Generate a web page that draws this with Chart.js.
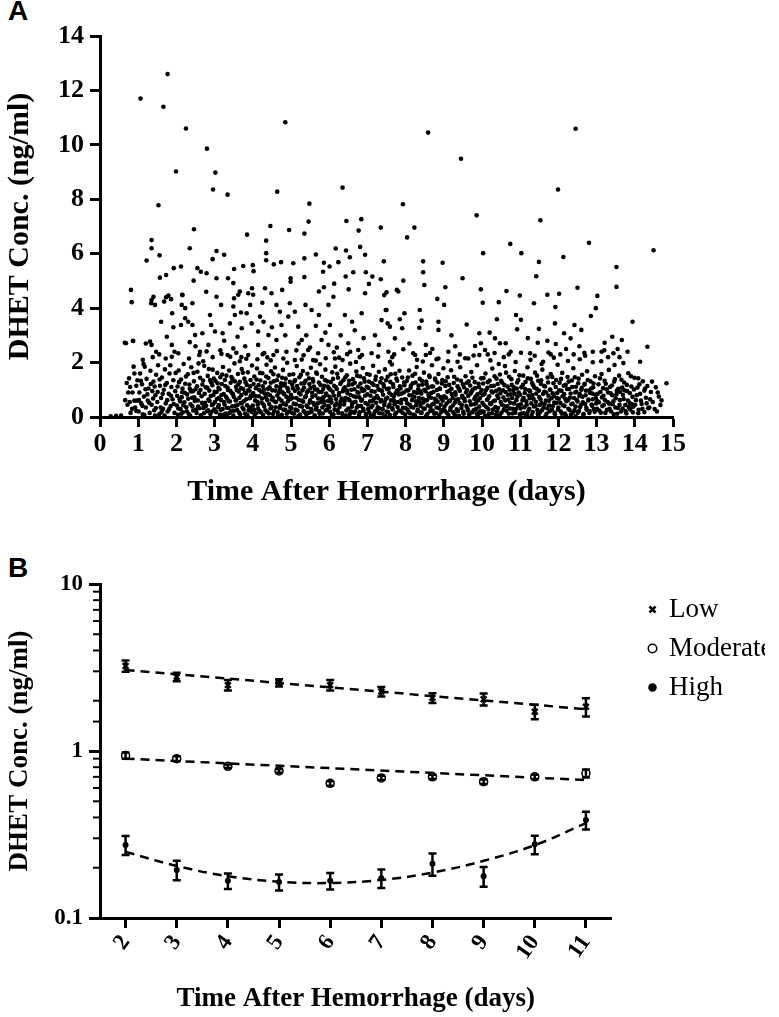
<!DOCTYPE html>
<html>
<head>
<meta charset="utf-8">
<script src="https://cdn.jsdelivr.net/npm/chart.js@4.4.1/dist/chart.umd.min.js"></script>
<style>
  body { margin: 0; background: #fff; width: 779px; height: 1017px; position: relative; overflow: hidden; }
  canvas { position: absolute; left: 0; }
  #chartA { top: 0; }
  #chartB { top: 540px; }
  .panel { position: absolute; left: 8px; font: bold 28px "Liberation Sans", Arial, sans-serif; color: #000; }
</style>
</head>
<body>
<div class="panel" style="top:-5px">A</div>
<div class="panel" style="top:552px">B</div>
<canvas id="chartA" width="779" height="510"></canvas>
<canvas id="chartB" width="779" height="477"></canvas>
<script>
// Panel A: individual DHET measurements, x,y pairs (days, ng/ml), grouped by day
const day0Pts = [0.28,0.03, 0.42,0.04, 0.55,0.05, 0.66,0.62, 0.70,1.25, 0.72,0.45, 0.68,2.71, 0.87,2.79, 0.81,4.67, 0.83,4.22, 0.76,1.42, 0.80,0.15, 0.85,0.9, 0.88,1.85, 0.92,0.35, 0.95,1.15, 0.97,0.6, 0.78,0.55, 0.9,1.6, 0.65,2.73, 0.86,2.8,
  0.74,0.9, 0.79,1.1, 0.84,0.3, 0.9,0.6, 0.95,0.22, 0.98,1.35];
const day1Pts = [1.01,0.2, 1.03,0.9, 1.05,1.6, 1.08,0.5, 1.1,1.2, 1.12,0.1, 1.15,0.75, 1.17,1.85, 1.2,0.35, 1.22,1.4, 1.25,0.6, 1.27,1.05, 1.3,0.15, 1.32,1.7, 1.35,0.45, 1.37,0.95, 1.4,1.3, 1.42,0.25, 1.45,0.8, 1.47,1.55, 1.5,0.55, 1.52,1.9, 1.55,0.1, 1.57,1.15, 1.6,0.7, 1.62,1.45, 1.65,0.3, 1.67,1.0, 1.7,1.75, 1.72,0.5, 1.75,1.25, 1.77,0.2, 1.8,0.85, 1.82,1.6, 1.85,0.4, 1.87,1.1, 1.9,0.65, 1.92,1.35, 1.95,0.15, 1.97,0.95, 1.14,1.95, 1.44,0.05, 1.59,0.35, 1.84,1.9, 1.69,0.05,
  1.02,0.62, 1.07,1.33, 1.11,0.41, 1.16,0.07, 1.19,1.02, 1.24,0.83, 1.29,0.52, 1.33,1.21, 1.39,0.68, 1.43,1.12, 1.46,0.33, 1.51,0.92, 1.56,1.38, 1.61,0.18, 1.64,0.85, 1.71,1.18, 1.76,0.62, 1.81,0.29, 1.86,0.78, 1.93,0.48, 1.98,1.62,
  1.31,2.77, 1.35,2.65, 1.47,2.4, 1.75,2.95, 1.88,2.65, 1.40,4.42, 1.44,4.12, 1.68,4.24, 1.73,4.4, 1.34,4.18, 1.89,3.81, 1.2,2.7, 1.55,2.3, 1.95,2.4, 1.12,2.1, 1.38,2.2, 1.72,2.15, 1.6,3.5, 1.92,3.3, 1.73,5.22, 1.57,5.12, 1.93,5.47, 1.35,4.3, 1.79,4.46, 1.86,4.33, 1.88,2.21,
  1.06,11.7, 1.66,11.4, 1.77,12.6, 1.53,7.78, 1.35,6.5, 1.35,6.2, 1.56,5.94, 1.22,5.75, 1.99,9.02];
const day2Pts = [2.01,0.42, 2.03,1.12, 2.04,0.08, 2.06,1.71, 2.08,0.66, 2.11,0.29, 2.12,1.38, 2.15,0.91, 2.17,0.17, 2.19,1.95, 2.21,0.54, 2.23,1.22, 2.26,0.36, 2.28,0.83, 2.3,1.57, 2.32,0.12, 2.35,1.04, 2.37,0.47, 2.39,1.83, 2.41,0.71, 2.44,0.24, 2.46,1.31, 2.48,0.59, 2.5,1.02, 2.53,0.15, 2.55,1.66, 2.57,0.38, 2.59,0.88, 2.62,1.44, 2.64,0.06, 2.66,0.76, 2.68,1.19, 2.71,0.33, 2.73,1.88, 2.75,0.52, 2.77,1.09, 2.8,0.21, 2.82,1.51, 2.84,0.64, 2.86,0.97, 2.89,0.11, 2.91,1.27, 2.93,0.44, 2.95,1.74, 2.97,0.81, 2.99,0.28, 2.14,0.73, 2.43,0.95, 2.69,0.49, 2.88,1.36,
  2.02,0.78, 2.05,0.31, 2.07,1.28, 2.1,0.57, 2.13,0.12, 2.16,1.05, 2.18,0.43, 2.22,0.89, 2.25,1.49, 2.27,0.21, 2.31,0.67, 2.34,1.19, 2.36,0.05, 2.38,0.94, 2.42,0.39, 2.45,1.62, 2.47,0.72, 2.51,0.26, 2.54,1.13, 2.56,0.61, 2.58,1.97, 2.61,0.32, 2.63,0.99, 2.67,0.52, 2.7,1.34, 2.72,0.14, 2.74,0.85, 2.78,0.41, 2.81,1.07, 2.83,0.25, 2.85,1.76, 2.87,0.59, 2.9,0.77, 2.92,0.19, 2.94,1.17, 2.96,0.47, 2.98,1.41, 2.33,2.15, 2.6,2.28, 2.79,2.41,
  2.16,4.48, 2.14,4.12, 2.23,4.0, 2.42,4.18, 2.12,3.38, 2.31,3.5, 2.23,3.63, 2.42,3.38, 2.49,3.01, 2.68,3.08, 2.88,3.75, 2.91,3.38, 2.84,2.65, 2.62,2.4, 2.05,2.34, 2.12,5.53, 2.55,5.47, 2.64,5.34, 2.79,5.28, 2.45,5.01, 2.15,4.49, 2.78,4.6, 2.5,2.6, 2.95,2.2, 2.35,2.75, 2.7,2.05,
  2.25,10.6, 2.80,9.86, 2.46,6.9, 2.35,6.2, 2.95,5.8, 2.96,8.36];
const day3Pts = [3.01,0.55, 3.02,1.33, 3.04,0.18, 3.05,0.92, 3.07,1.62, 3.09,0.37, 3.1,1.07, 3.12,0.71, 3.14,0.09, 3.15,1.46, 3.17,0.62, 3.19,1.21, 3.21,0.29, 3.22,1.84, 3.24,0.84, 3.26,0.46, 3.28,1.14, 3.29,0.13, 3.31,1.52, 3.33,0.68, 3.35,0.99, 3.36,0.33, 3.38,1.71, 3.4,0.57, 3.42,1.26, 3.43,0.21, 3.45,0.88, 3.47,1.39, 3.49,0.05, 3.5,0.74, 3.52,1.97, 3.54,0.41, 3.56,1.11, 3.57,0.63, 3.59,0.26, 3.61,1.58, 3.63,0.94, 3.64,0.16, 3.66,1.29, 3.68,0.51, 3.7,0.81, 3.71,1.76, 3.73,0.35, 3.75,1.03, 3.77,0.59, 3.78,1.41, 3.8,0.12, 3.82,0.86, 3.84,1.18, 3.85,0.43, 3.87,1.64, 3.89,0.24, 3.91,0.97, 3.92,0.69, 3.94,1.36, 3.96,0.31, 3.98,1.89, 3.99,0.78, 3.33,0.03, 3.66,2.05,
  3.0,0.93, 3.03,0.21, 3.06,0.66, 3.08,1.24, 3.11,0.44, 3.13,1.02, 3.16,0.27, 3.18,0.81, 3.2,1.56, 3.23,0.08, 3.25,0.55, 3.27,1.36, 3.3,0.74, 3.32,0.34, 3.34,1.08, 3.37,0.58, 3.39,0.15, 3.41,0.96, 3.44,1.47, 3.46,0.39, 3.48,0.84, 3.51,0.23, 3.53,1.31, 3.55,0.61, 3.58,0.99, 3.6,0.44, 3.62,1.2, 3.65,0.71, 3.67,0.1, 3.69,1.06, 3.72,0.52, 3.74,1.63, 3.76,0.28, 3.79,0.89, 3.81,1.28, 3.83,0.65, 3.86,0.07, 3.88,0.98, 3.9,0.37, 3.93,1.13, 3.95,0.79, 3.97,0.19, 3.41,2.21, 3.57,2.36, 3.83,2.14, 3.18,2.32,
  3.05,4.42, 3.17,4.12, 3.01,3.14, 3.21,3.08, 3.4,3.44, 3.49,4.06, 3.53,3.75, 3.69,3.84, 3.62,4.49, 3.88,4.55, 3.93,4.12, 3.84,3.81, 3.97,3.44, 3.71,3.26, 3.88,2.28, 3.49,2.52, 3.34,2.28, 3.51,5.44, 3.75,5.55, 3.05,5.1, 3.35,5.1, 3.49,4.92, 3.51,4.36, 3.66,4.61, 3.98,4.73, 3.25,2.8, 3.6,2.95, 3.8,2.6, 3.15,2.45, 3.7,2.2,
  3.02,8.98, 3.34,8.17, 3.05,6.1, 3.25,5.96, 3.85,6.7];
const day4Pts = [4.01,0.88, 4.03,0.27, 4.04,1.49, 4.06,0.61, 4.08,1.06, 4.09,0.14, 4.11,1.78, 4.13,0.45, 4.15,1.17, 4.16,0.76, 4.18,0.22, 4.2,1.34, 4.22,0.93, 4.23,0.53, 4.25,1.61, 4.27,0.07, 4.29,1.01, 4.3,0.39, 4.32,1.27, 4.34,0.72, 4.36,1.92, 4.37,0.19, 4.39,0.85, 4.41,1.43, 4.43,0.48, 4.44,1.09, 4.46,0.31, 4.48,1.68, 4.5,0.64, 4.51,0.98, 4.53,0.11, 4.55,1.31, 4.57,0.57, 4.58,1.82, 4.6,0.36, 4.62,1.13, 4.64,0.79, 4.65,0.17, 4.67,1.52, 4.69,0.67, 4.71,1.02, 4.72,0.41, 4.74,1.24, 4.76,0.08, 4.78,0.91, 4.79,1.73, 4.81,0.49, 4.83,1.16, 4.85,0.26, 4.86,1.41, 4.88,0.74, 4.9,1.99, 4.92,0.58, 4.93,0.95, 4.95,0.2, 4.97,1.29, 4.99,0.66, 4.12,2.12, 4.47,2.08, 4.8,2.15,
  4.0,0.42, 4.02,1.21, 4.05,0.09, 4.07,0.77, 4.1,1.38, 4.12,0.56, 4.14,0.3, 4.17,0.99, 4.19,1.62, 4.21,0.17, 4.24,0.68, 4.26,1.13, 4.28,0.46, 4.31,0.86, 4.33,0.25, 4.35,1.49, 4.38,0.62, 4.4,1.04, 4.42,0.13, 4.45,0.8, 4.47,1.26, 4.49,0.37, 4.52,0.71, 4.54,1.57, 4.56,0.22, 4.59,0.97, 4.61,0.55, 4.63,1.35, 4.66,0.05, 4.68,0.89, 4.7,0.33, 4.73,1.11, 4.75,0.6, 4.77,1.44, 4.8,0.27, 4.82,0.84, 4.84,1.23, 4.87,0.45, 4.89,0.12, 4.91,1.06, 4.94,0.7, 4.96,1.55, 4.98,0.36, 4.26,2.31, 4.63,2.42, 4.38,2.19,
  4.19,3.69, 4.28,3.5, 4.14,3.14, 4.41,3.01, 4.62,4.12, 4.71,3.87, 4.75,3.38, 4.97,4.18, 4.93,3.69, 4.62,2.83, 4.88,2.4, 4.54,2.28, 4.14,2.65, 4.0,5.58, 4.02,5.36, 4.55,5.61, 4.99,5.1, 4.99,4.97, 4.77,4.67, 4.01,4.49, 4.32,4.73, 4.49,4.55, 4.3,2.35, 4.5,3.3, 4.85,3.0, 4.25,4.2,
  4.85,10.83, 4.64,8.28, 4.46,7.02, 4.95,6.87, 4.35,6.48, 4.35,6.02, 4.35,5.76, 4.74,5.69];
const day5Pts = [5.01,0.33, 5.03,1.19, 5.04,0.71, 5.06,1.57, 5.08,0.12, 5.1,0.96, 5.11,1.36, 5.13,0.47, 5.15,1.87, 5.17,0.24, 5.18,1.04, 5.2,0.63, 5.22,1.46, 5.24,0.09, 5.25,0.83, 5.27,1.23, 5.29,0.38, 5.31,1.69, 5.32,0.56, 5.34,1.08, 5.36,0.18, 5.38,1.33, 5.39,0.77, 5.41,0.42, 5.43,1.59, 5.45,0.97, 5.46,0.15, 5.48,1.21, 5.5,0.61, 5.52,1.81, 5.53,0.29, 5.55,0.89, 5.57,1.39, 5.59,0.51, 5.6,1.12, 5.62,0.06, 5.64,0.79, 5.66,1.63, 5.67,0.35, 5.69,1.01, 5.71,0.68, 5.73,1.27, 5.74,0.21, 5.76,1.94, 5.78,0.54, 5.8,0.92, 5.81,1.48, 5.83,0.13, 5.85,0.73, 5.87,1.15, 5.88,0.44, 5.9,1.74, 5.92,0.86, 5.94,0.27, 5.95,1.31, 5.97,0.59, 5.99,1.06, 5.28,2.11, 5.65,2.07, 5.91,2.16,
  5.0,0.82, 5.02,0.16, 5.05,1.06, 5.07,0.49, 5.09,1.31, 5.12,0.27, 5.14,0.7, 5.16,1.14, 5.19,0.03, 5.21,0.88, 5.23,0.41, 5.26,1.55, 5.28,0.6, 5.3,0.98, 5.33,0.22, 5.35,1.25, 5.37,0.73, 5.4,0.1, 5.42,0.91, 5.44,0.36, 5.47,1.42, 5.49,0.53, 5.51,1.07, 5.54,0.19, 5.56,0.75, 5.58,1.3, 5.61,0.44, 5.63,1.01, 5.65,0.28, 5.68,1.59, 5.7,0.5, 5.72,0.92, 5.75,0.12, 5.77,1.18, 5.79,0.67, 5.82,0.35, 5.84,1.03, 5.86,0.58, 5.89,1.36, 5.91,0.24, 5.93,0.81, 5.96,1.12, 5.98,0.4, 5.33,2.27, 5.71,2.34, 5.14,2.45,
  5.1,3.87, 5.19,3.32, 5.38,4.12, 5.54,3.93, 5.73,3.75, 5.98,4.12, 5.45,2.46, 5.8,2.83, 5.98,2.65, 5.28,2.83, 5.58,2.09, 5.1,2.09, 5.2,2.7, 5.4,3.0, 5.65,3.35, 5.9,3.1, 5.5,2.55,
  5.06,5.65, 5.48,7.84, 5.46,7.18, 5.35,6.74, 5.65,5.97, 5.35,5.83, 5.86,5.67, 5.84,5.34, 5.35,5.14, 5.86,4.77, 5.73,4.61];
const day6Pts = [6.01,0.74, 6.02,0.19, 6.04,1.28, 6.06,0.53, 6.08,1.64, 6.09,0.93, 6.11,0.1, 6.13,1.15, 6.15,0.42, 6.16,1.85, 6.18,0.66, 6.2,1.03, 6.22,0.25, 6.23,1.44, 6.25,0.8, 6.27,0.37, 6.29,1.21, 6.3,0.58, 6.32,1.72, 6.34,0.14, 6.36,0.95, 6.37,1.35, 6.39,0.46, 6.41,1.09, 6.43,0.7, 6.44,0.05, 6.46,1.53, 6.48,0.87, 6.5,0.31, 6.51,1.18, 6.53,0.62, 6.55,1.96, 6.57,0.2, 6.58,1.0, 6.6,0.49, 6.62,1.39, 6.64,0.76, 6.65,0.16, 6.67,1.26, 6.69,0.56, 6.71,1.67, 6.72,0.34, 6.74,0.91, 6.76,1.12, 6.78,0.08, 6.79,0.72, 6.81,1.49, 6.83,0.4, 6.85,1.05, 6.86,0.64, 6.88,1.8, 6.9,0.23, 6.92,0.98, 6.93,1.3, 6.95,0.51, 6.97,0.12, 6.99,1.58, 6.35,2.09, 6.7,2.02, 6.26,2.18,
  6.0,0.36, 6.03,1.0, 6.05,0.63, 6.07,0.07, 6.1,1.4, 6.12,0.79, 6.14,0.27, 6.17,1.1, 6.19,0.5, 6.21,1.59, 6.24,0.15, 6.26,0.88, 6.28,0.45, 6.31,1.27, 6.33,0.68, 6.35,0.04, 6.38,1.05, 6.4,0.57, 6.42,1.45, 6.45,0.24, 6.47,0.97, 6.49,0.66, 6.52,1.33, 6.54,0.11, 6.56,0.81, 6.59,0.38, 6.61,1.2, 6.63,0.53, 6.66,1.02, 6.68,0.2, 6.7,0.74, 6.73,1.52, 6.75,0.41, 6.77,0.89, 6.8,0.17, 6.82,1.23, 6.84,0.6, 6.87,0.96, 6.89,0.3, 6.91,1.42, 6.94,0.78, 6.96,0.09, 6.98,1.11, 6.47,2.31, 6.86,2.28, 6.12,2.38,
  6.11,4.42, 6.02,3.38, 6.41,3.75, 6.67,3.19, 6.85,3.81, 6.94,4.55, 6.15,2.15, 6.5,2.71, 6.76,2.46, 6.3,3.0, 6.55,2.4, 6.9,2.9, 6.2,2.55, 6.6,3.5, 6.8,2.2,
  6.35,8.43, 6.45,7.2, 6.84,7.27, 6.77,6.85, 6.17,6.19, 6.44,6.12, 6.81,6.25, 6.94,5.96, 6.54,5.87, 6.24,5.69, 6.01,5.53, 6.63,5.32, 6.96,5.32, 6.43,5.16, 6.51,4.69, 6.13,4.9];
const day7Pts = [7.01,0.46, 7.03,1.07, 7.05,0.17, 7.06,1.55, 7.08,0.78, 7.1,0.36, 7.12,1.24, 7.14,0.6, 7.15,1.88, 7.17,0.1, 7.19,0.93, 7.21,1.37, 7.23,0.52, 7.24,0.25, 7.26,1.14, 7.28,0.7, 7.3,1.66, 7.32,0.31, 7.33,0.99, 7.35,0.57, 7.37,1.42, 7.39,0.13, 7.41,0.82, 7.42,1.2, 7.44,0.44, 7.46,1.75, 7.48,0.66, 7.5,0.2, 7.51,1.03, 7.53,1.48, 7.55,0.38, 7.57,0.89, 7.59,0.07, 7.6,1.29, 7.62,0.61, 7.64,1.93, 7.66,0.28, 7.68,1.1, 7.69,0.74, 7.71,0.47, 7.73,1.59, 7.75,0.15, 7.77,0.96, 7.78,1.33, 7.8,0.55, 7.82,0.83, 7.84,1.7, 7.86,0.22, 7.87,1.06, 7.89,0.63, 7.91,1.45, 7.93,0.34, 7.95,0.9, 7.97,1.17, 7.99,0.09,
  7.0,0.83, 7.02,0.29, 7.04,1.3, 7.07,0.58, 7.09,0.05, 7.11,0.95, 7.13,0.42, 7.16,1.18, 7.18,0.69, 7.2,0.21, 7.22,1.49, 7.25,0.77, 7.27,0.36, 7.29,1.01, 7.31,0.14, 7.34,1.28, 7.36,0.62, 7.38,0.95, 7.4,0.29, 7.43,1.11, 7.45,0.55, 7.47,0.04, 7.49,1.35, 7.52,0.71, 7.54,0.18, 7.56,1.05, 7.58,0.46, 7.61,1.57, 7.63,0.82, 7.65,0.33, 7.67,1.2, 7.7,0.59, 7.72,0.1, 7.74,0.87, 7.76,1.41, 7.79,0.37, 7.81,0.99, 7.83,0.24, 7.85,1.13, 7.88,0.51, 7.9,0.86, 7.92,0.16, 7.96,1.27, 7.98,0.65, 7.28,2.22, 7.7,2.3,
  7.44,4.48, 7.48,3.93, 7.37,3.56, 7.59,3.32, 7.11,2.34, 7.3,2.65, 7.55,2.4, 7.59,2.03, 7.94,2.49, 7.53,3.44, 7.5,3.93, 7.81,4.61, 7.97,3.81, 7.85,3.59, 7.91,3.26, 7.72,2.89, 7.2,3.0, 7.65,2.2,
  7.93,7.82, 7.35,6.96, 7.43,5.72, 7.13,5.16, 7.35,5.06, 7.94,5.01, 7.04,4.89, 7.5,4.58, 7.77,4.67];
const day8Pts = [8.01,0.64, 8.03,1.32, 8.05,0.27, 8.07,0.98, 8.09,1.71, 8.11,0.45, 8.12,0.13, 8.14,1.16, 8.16,0.79, 8.18,1.52, 8.2,0.35, 8.22,0.92, 8.24,0.06, 8.26,1.27, 8.27,0.58, 8.29,1.84, 8.31,0.21, 8.33,1.02, 8.35,0.7, 8.37,1.4, 8.39,0.41, 8.41,0.86, 8.42,0.16, 8.44,1.19, 8.46,0.53, 8.48,1.63, 8.5,0.3, 8.52,0.95, 8.54,1.3, 8.56,0.62, 8.57,0.11, 8.59,1.08, 8.61,0.76, 8.63,1.47, 8.65,0.37, 8.67,0.88, 8.69,1.9, 8.71,0.24, 8.72,1.12, 8.74,0.49, 8.76,0.67, 8.78,1.36, 8.8,0.14, 8.82,0.99, 8.84,0.56, 8.86,1.58, 8.87,0.32, 8.89,1.05, 8.91,0.73, 8.93,0.18, 8.95,1.23, 8.97,0.6, 8.99,1.79, 8.45,2.04, 8.81,2.12,
  8.0,0.33, 8.02,0.97, 8.04,0.5, 8.06,1.45, 8.08,0.19, 8.1,0.8, 8.13,1.07, 8.15,0.37, 8.17,0.62, 8.19,1.24, 8.21,0.09, 8.23,0.74, 8.25,1.59, 8.28,0.44, 8.3,0.88, 8.32,0.27, 8.34,1.16, 8.36,0.55, 8.38,0.95, 8.4,0.15, 8.43,1.33, 8.45,0.67, 8.47,0.31, 8.49,1.0, 8.51,0.6, 8.53,0.03, 8.55,1.2, 8.58,0.42, 8.6,0.84, 8.62,1.52, 8.64,0.21, 8.66,0.71, 8.68,1.12, 8.7,0.47, 8.73,0.92, 8.75,0.12, 8.77,1.41, 8.79,0.63, 8.81,0.35, 8.83,1.27, 8.85,0.8, 8.88,0.07, 8.9,1.03, 8.92,0.45, 8.94,0.68, 8.96,1.36, 8.98,0.26, 8.25,2.28, 8.64,2.35,
  8.83,4.34, 8.37,3.93, 8.42,3.54, 8.86,3.5, 8.36,3.28, 8.86,3.2, 8.53,2.65, 8.53,2.28, 8.86,2.15, 8.2,2.34, 8.1,2.7, 8.7,2.5, 8.3,2.1,
  8.59,10.45, 8.23,6.96, 8.04,6.6, 8.46,5.72, 8.97,5.67, 8.46,5.32, 8.49,4.85];
const day9Pts = [9.02,0.38, 9.04,1.14, 9.06,0.71, 9.08,0.15, 9.1,1.46, 9.13,0.57, 9.15,0.97, 9.17,0.26, 9.19,1.72, 9.21,0.84, 9.24,0.42, 9.26,1.25, 9.28,0.09, 9.3,0.91, 9.32,0.63, 9.35,1.38, 9.37,0.22, 9.39,1.05, 9.41,0.51, 9.43,1.83, 9.46,0.33, 9.48,0.78, 9.5,1.2, 9.52,0.12, 9.54,0.67, 9.57,1.5, 9.59,0.4, 9.61,0.99, 9.63,0.24, 9.65,1.31, 9.68,0.58, 9.7,0.86, 9.72,1.65, 9.74,0.17, 9.76,1.01, 9.79,0.47, 9.81,1.28, 9.83,0.74, 9.85,0.3, 9.87,1.9, 9.9,0.61, 9.92,1.1, 9.94,0.2, 9.96,0.89, 9.98,1.42, 9.11,2.05, 9.56,2.16, 9.33,0.04, 9.67,0.03, 9.89,0.05,
  9.01,0.76, 9.03,0.22, 9.05,1.31, 9.07,0.49, 9.09,0.93, 9.12,0.08, 9.14,1.18, 9.16,0.6, 9.18,0.35, 9.2,1.04, 9.23,0.7, 9.25,0.17, 9.27,1.48, 9.29,0.53, 9.31,0.82, 9.34,0.28, 9.36,1.13, 9.38,0.65, 9.4,0.04, 9.42,0.96, 9.45,1.33, 9.47,0.44, 9.49,0.72, 9.51,0.19, 9.53,1.09, 9.55,0.58, 9.58,0.9, 9.6,1.26, 9.62,0.31, 9.64,0.77, 9.66,0.1, 9.69,1.16, 9.71,0.45, 9.73,0.94, 9.75,1.44, 9.78,0.25, 9.8,0.66, 9.82,1.06, 9.84,0.5, 9.86,0.13, 9.88,0.83, 9.91,1.22, 9.93,0.38, 9.95,0.7, 9.97,0.16, 9.99,0.99, 9.42,2.3, 9.78,2.26,
  9.01,4.12, 9.93,3.08, 9.97,2.71, 9.82,2.61, 9.93,2.28, 9.36,2.03, 9.12,2.4, 9.64,2.15, 9.3,2.6, 9.6,3.4, 9.2,3.0,
  9.45,9.49, 9.86,7.41, 9.49,5.1, 9.04,4.77, 9.97,4.69];
const day10Pts = [10.01,0.52, 10.03,1.23, 10.05,0.19, 10.07,0.85, 10.09,1.6, 10.12,0.36, 10.14,1.07, 10.16,0.68, 10.18,0.11, 10.2,1.34, 10.23,0.47, 10.25,0.94, 10.27,1.78, 10.29,0.27, 10.31,1.15, 10.34,0.6, 10.36,0.08, 10.38,1.41, 10.4,0.79, 10.42,0.33, 10.45,1.02, 10.47,1.56, 10.49,0.55, 10.51,0.16, 10.53,1.26, 10.56,0.72, 10.58,0.4, 10.6,1.87, 10.62,0.92, 10.64,0.23, 10.67,1.12, 10.69,0.64, 10.71,1.48, 10.73,0.31, 10.75,0.83, 10.78,1.18, 10.8,0.13, 10.82,0.97, 10.84,0.5, 10.86,1.69, 10.89,0.29, 10.91,1.05, 10.93,0.75, 10.95,1.36, 10.97,0.44, 10.99,0.1, 10.22,2.08, 10.57,2.2, 10.88,2.02, 10.44,1.95,
  10.0,0.21, 10.02,0.81, 10.04,1.43, 10.06,0.43, 10.08,0.04, 10.1,0.98, 10.13,0.63, 10.15,1.28, 10.17,0.28, 10.19,0.76, 10.21,0.5, 10.24,1.14, 10.26,0.14, 10.28,0.9, 10.3,0.58, 10.33,1.5, 10.35,0.37, 10.37,0.96, 10.39,0.2, 10.41,1.21, 10.43,0.7, 10.46,0.06, 10.48,0.87, 10.5,1.33, 10.52,0.45, 10.55,0.98, 10.57,0.26, 10.59,1.17, 10.61,0.61, 10.63,1.63, 10.66,0.39, 10.68,0.82, 10.7,0.12, 10.72,1.0, 10.74,0.52, 10.77,1.39, 10.79,0.7, 10.81,0.3, 10.83,1.1, 10.85,0.85, 10.87,0.16, 10.9,0.62, 10.92,1.27, 10.94,0.41, 10.96,0.9, 10.98,1.53, 10.33,2.35, 10.75,2.4,
  10.02,4.2, 10.39,3.59, 10.89,3.75, 10.92,3.22, 10.08,2.46, 10.34,2.89, 10.47,2.71, 10.62,2.71, 10.2,3.1, 10.7,2.3, 10.15,2.3,
  10.03,6.02, 10.74,6.36, 10.64,4.63, 10.99,4.46, 10.44,4.22];
const day11Pts = [11.01,0.31, 11.03,1.09, 11.06,0.62, 11.08,1.52, 11.1,0.14, 11.12,0.88, 11.14,1.29, 11.17,0.45, 11.19,1.83, 11.21,0.22, 11.23,0.98, 11.25,0.69, 11.28,1.4, 11.3,0.07, 11.32,0.81, 11.34,1.17, 11.36,0.39, 11.39,1.63, 11.41,0.56, 11.43,1.04, 11.45,0.26, 11.47,1.33, 11.5,0.73, 11.52,0.17, 11.54,1.21, 11.56,0.5, 11.58,1.74, 11.61,0.34, 11.63,0.93, 11.65,1.12, 11.67,0.6, 11.69,0.12, 11.72,1.45, 11.74,0.78, 11.76,0.42, 11.78,1.01, 11.8,1.58, 11.83,0.28, 11.85,0.87, 11.87,1.24, 11.89,0.53, 11.91,0.1, 11.94,1.36, 11.96,0.7, 11.98,1.92, 11.27,2.1, 11.6,2.03, 11.88,2.18, 11.15,0.04, 11.48,0.05,
  11.0,0.82, 11.02,0.47, 11.04,0.13, 11.07,1.18, 11.09,0.7, 11.11,0.36, 11.13,1.03, 11.16,0.58, 11.18,0.09, 11.2,1.42, 11.22,0.79, 11.24,0.3, 11.26,0.95, 11.29,0.5, 11.31,1.25, 11.33,0.18, 11.35,0.66, 11.37,1.08, 11.4,0.41, 11.42,0.86, 11.44,1.52, 11.46,0.11, 11.49,0.97, 11.51,0.44, 11.53,0.64, 11.55,1.35, 11.57,0.25, 11.6,0.85, 11.62,1.15, 11.64,0.48, 11.66,0.03, 11.68,0.9, 11.71,0.32, 11.73,1.27, 11.75,0.6, 11.77,0.21, 11.79,1.0, 11.82,0.69, 11.84,1.47, 11.86,0.4, 11.88,0.77, 11.9,0.15, 11.93,1.1, 11.95,0.52, 11.97,0.88, 11.99,0.27, 11.38,2.25, 11.74,2.37,
  11.02,3.57, 11.71,4.49, 11.91,3.44, 11.49,3.24, 11.46,2.73, 11.71,2.8, 11.93,2.68, 11.02,2.36, 11.26,2.34, 11.56,1.95, 11.2,2.9, 11.8,2.3,
  11.99,8.36, 11.53,7.23, 11.03,6.02, 11.49,5.7, 11.42,5.17, 11.36,4.18, 11.92,4.04];
const day12Pts = [12.01,0.67, 12.03,1.26, 12.06,0.2, 12.08,0.96, 12.1,1.62, 12.12,0.43, 12.15,0.84, 12.17,0.13, 12.19,1.18, 12.21,0.58, 12.24,1.47, 12.26,0.3, 12.28,1.03, 12.3,0.71, 12.33,0.09, 12.35,1.34, 12.37,0.49, 12.39,1.79, 12.42,0.25, 12.44,0.9, 12.46,1.11, 12.48,0.63, 12.51,0.16, 12.53,1.41, 12.55,0.77, 12.57,0.37, 12.6,1.0, 12.62,1.55, 12.64,0.54, 12.66,0.11, 12.69,1.22, 12.71,0.8, 12.73,0.34, 12.75,1.68, 12.78,0.61, 12.8,0.97, 12.82,0.22, 12.84,1.31, 12.87,0.46, 12.89,0.86, 12.91,1.09, 12.93,0.29, 12.96,1.5, 12.98,0.7, 12.25,2.06, 12.56,2.12, 12.9,2.01, 12.45,0.03,
  12.0,0.35, 12.02,0.98, 12.05,0.52, 12.07,1.4, 12.09,0.12, 12.11,0.76, 12.14,1.15, 12.16,0.4, 12.18,0.67, 12.2,0.05, 12.23,1.03, 12.25,0.62, 12.27,1.3, 12.29,0.26, 12.32,0.86, 12.34,0.47, 12.36,1.1, 12.38,0.17, 12.41,0.7, 12.43,1.46, 12.45,0.38, 12.47,0.93, 12.5,0.57, 12.52,1.24, 12.54,0.22, 12.56,0.84, 12.59,0.44, 12.61,1.07, 12.63,0.74, 12.65,0.08, 12.68,1.19, 12.7,0.48, 12.72,0.97, 12.74,0.27, 12.77,1.36, 12.79,0.64, 12.81,0.15, 12.83,0.88, 12.86,1.05, 12.88,0.41, 12.9,0.65, 12.92,1.23, 12.95,0.19, 12.97,0.82, 12.99,0.5, 12.4,2.3, 12.7,2.25,
  12.15,3.08, 12.32,2.89, 12.42,3.38, 12.85,3.71, 12.68,2.36, 12.2,2.5, 12.55,2.6, 12.9,2.4, 12.6,3.2, 12.05,2.3,
  12.45,10.59, 12.8,6.4, 12.13,5.88, 12.02,4.53, 12.5,4.75];
const day13Pts = [13.02,0.59, 13.05,1.2, 13.07,0.24, 13.1,0.92, 13.13,1.58, 13.15,0.4, 13.18,0.78, 13.21,1.33, 13.23,0.15, 13.26,1.02, 13.29,0.55, 13.32,1.73, 13.34,0.3, 13.37,0.87, 13.4,1.16, 13.42,0.47, 13.45,0.1, 13.48,1.39, 13.5,0.69, 13.53,0.97, 13.56,0.33, 13.59,1.52, 13.61,0.62, 13.64,0.2, 13.67,1.08, 13.69,0.81, 13.72,1.27, 13.75,0.44, 13.78,0.13, 13.8,0.95, 13.83,1.61, 13.86,0.52, 13.88,0.28, 13.91,1.12, 13.94,0.74, 13.96,0.38, 13.99,1.44, 13.47,1.91, 13.12,2.05, 13.7,1.98,
  13.01,0.3, 13.03,0.85, 13.06,0.54, 13.09,1.42, 13.11,0.16, 13.14,0.72, 13.17,1.06, 13.19,0.44, 13.22,0.62, 13.24,1.22, 13.27,0.26, 13.3,0.9, 13.33,0.49, 13.35,1.1, 13.38,0.2, 13.41,0.8, 13.44,0.58, 13.46,1.3, 13.49,0.35, 13.52,0.84, 13.54,0.12, 13.57,1.04, 13.6,0.45, 13.62,0.92, 13.65,1.37, 13.68,0.31, 13.71,0.66, 13.73,0.98, 13.76,0.22, 13.79,1.18, 13.82,0.6, 13.84,0.37, 13.87,0.88, 13.9,1.5, 13.92,0.48, 13.95,0.17, 13.98,1.01, 13.2,2.45, 13.6,2.2,
  13.41,2.95, 13.66,2.83, 13.21,2.73, 13.94,3.5, 13.13,2.4, 13.44,2.34, 13.81,2.4, 13.3,2.2, 13.55,2.5,
  13.52,5.51, 13.02,4.45, 13.52,4.78, 12.98,4.0];
const day14Pts = [14.03,0.62, 14.07,1.08, 14.1,0.26, 14.14,0.85, 14.18,0.48, 14.21,1.31, 14.25,0.18, 14.29,0.71, 14.33,1.14, 14.38,0.35, 14.42,0.92, 14.47,0.55, 14.52,0.29, 14.6,0.9, 14.7,0.61,
  14.01,0.45, 14.05,0.8, 14.09,0.14, 14.12,1.2, 14.16,0.6, 14.2,0.3, 14.27,1.05, 14.31,0.5, 14.4,0.65, 14.45,1.3, 14.58,0.2, 14.63,0.75,
  14.83,1.24, 14.67,0.44, 14.55,1.09, 14.14,2.03, 14.25,0.97, 14.09,1.42, 14.35,0.32, 14.33,2.58, 14.49,6.13];

// Panel B: means and SEM by day after hemorrhage
const dayLabels = ['2', '3', '4', '5', '6', '7', '8', '9', '10', '11'];
const lowMean = [3.23, 2.78, 2.48, 2.56, 2.48, 2.27, 2.08, 2.04, 1.72, 1.84];
const lowSem = [0.25, 0.16, 0.18, 0.13, 0.18, 0.15, 0.14, 0.17, 0.17, 0.23];
const modMean = [0.94, 0.90, 0.81, 0.76, 0.64, 0.69, 0.70, 0.655, 0.70, 0.735];
const modSem = [0.04, 0.03, 0.02, 0.02, 0.02, 0.02, 0.02, 0.02, 0.02, 0.04];
const highMean = [0.274, 0.194, 0.167, 0.164, 0.167, 0.173, 0.211, 0.178, 0.276, 0.386];
const highSem = [0.036, 0.026, 0.018, 0.018, 0.019, 0.022, 0.032, 0.024, 0.035, 0.047];
// fitted curves (dashed)
const lowFit = [3.06, null, null, null, null, null, null, null, null, 1.78];
const modFit = [0.90, null, null, null, null, null, null, null, null, 0.67];
const highFit = [0.249, 0.205, 0.178, 0.165, 0.162, 0.169, 0.187, 0.22, 0.273, 0.37];

const serif = '"Liberation Serif", "Times New Roman", serif';

function toPoints(arr) {
  const out = [];
  for (let i = 0; i < arr.length; i += 2) out.push({x: arr[i], y: arr[i + 1]});
  return out;
}
const scatterPts = [day0Pts, day1Pts, day2Pts, day3Pts, day4Pts, day5Pts, day6Pts, day7Pts,
  day8Pts, day9Pts, day10Pts, day11Pts, day12Pts, day13Pts, day14Pts].flatMap(toPoints);

new Chart(document.getElementById('chartA'), {
  type: 'scatter',
  data: {
    datasets: [{
      data: scatterPts,
      pointRadius: 2.3,
      pointHoverRadius: 2.3,
      pointBackgroundColor: '#000',
      pointBorderWidth: 0,
      clip: 6
    }]
  },
  options: {
    responsive: false,
    animation: false,
    layout: {padding: {top: 36, right: 106, left: 0, bottom: 0}},
    plugins: {legend: {display: false}, tooltip: {enabled: false}},
    scales: {
      x: {
        type: 'linear', min: 0, max: 15,
        ticks: {stepSize: 1, color: '#000', padding: 2, font: {family: serif, size: 26, weight: 'bold'}},
        grid: {drawOnChartArea: false, tickLength: 10, tickWidth: 3, tickColor: '#000'},
        border: {width: 3, color: '#000'},
        title: {display: true, text: 'Time After Hemorrhage (days)', color: '#000',
          font: {family: serif, size: 30, weight: 'bold'}, padding: {top: 4, bottom: 0}},
        afterFit: s => { s.height = 93; }
      },
      y: {
        min: 0, max: 14,
        ticks: {stepSize: 2, color: '#000', padding: 6, font: {family: serif, size: 26, weight: 'bold'}},
        grid: {drawOnChartArea: false, tickLength: 10, tickWidth: 3, tickColor: '#000'},
        border: {width: 3, color: '#000'},
        title: {display: true, text: 'DHET Conc. (ng/ml)', color: '#000',
          font: {family: serif, size: 30, weight: 'bold'}, padding: {top: 2, bottom: 2}},
        afterFit: s => { s.width = 100; }
      }
    }
  }
});

function isDecade(v) {
  const l = Math.log10(v);
  return Math.abs(l - Math.round(l)) < 1e-6;
}

// vertical SEM bars with caps
const errorBars = {
  id: 'errorBars',
  afterDatasetsDraw(chart) {
    const {ctx, scales: {x, y}} = chart;
    chart.data.datasets.forEach(ds => {
      if (!ds.sem) return;
      ctx.save();
      ctx.strokeStyle = '#000';
      ctx.lineWidth = 2.5;
      ds.data.forEach((v, j) => {
        const px = x.getPixelForValue(j);
        const top = y.getPixelForValue(v + ds.sem[j]);
        const bot = y.getPixelForValue(v - ds.sem[j]);
        ctx.beginPath();
        ctx.moveTo(px, top); ctx.lineTo(px, bot);
        ctx.moveTo(px - 4, top); ctx.lineTo(px + 4, top);
        ctx.moveTo(px - 4, bot); ctx.lineTo(px + 4, bot);
        ctx.stroke();
      });
      ctx.restore();
    });
  }
};

// short minor ticks on the log axis
const minorTicks = {
  id: 'minorTicks',
  afterDraw(chart) {
    const {ctx, scales: {y}, chartArea} = chart;
    ctx.save();
    ctx.strokeStyle = '#000';
    ctx.lineWidth = 2;
    y.ticks.forEach(t => {
      if (isDecade(t.value)) return;
      const py = y.getPixelForValue(t.value);
      ctx.beginPath();
      ctx.moveTo(chartArea.left - 7, py);
      ctx.lineTo(chartArea.left, py);
      ctx.stroke();
    });
    ctx.restore();
  }
};

new Chart(document.getElementById('chartB'), {
  type: 'line',
  data: {
    labels: dayLabels,
    datasets: [
      {label: 'Low', data: lowMean, sem: lowSem, showLine: false, pointStyle: 'crossRot',
        pointRadius: 4, pointBorderWidth: 2.5, pointBorderColor: '#000', pointBackgroundColor: '#000'},
      {label: 'Moderate', data: modMean, sem: modSem, showLine: false, pointStyle: 'circle',
        pointRadius: 4, pointBorderWidth: 1.5, pointBorderColor: '#000', pointBackgroundColor: '#fff'},
      {label: 'High', data: highMean, sem: highSem, showLine: false, pointStyle: 'circle',
        pointRadius: 3, pointBorderWidth: 0, pointBorderColor: '#000', pointBackgroundColor: '#000'},
      {label: 'Low fit', data: lowFit, spanGaps: true, borderColor: '#000', borderWidth: 2.5,
        borderDash: [9, 6], pointRadius: 0, fill: false},
      {label: 'Moderate fit', data: modFit, spanGaps: true, borderColor: '#000', borderWidth: 2.5,
        borderDash: [9, 6], pointRadius: 0, fill: false},
      {label: 'High fit', data: highFit, borderColor: '#000', borderWidth: 2.5, tension: 0.4,
        borderDash: [9, 6], pointRadius: 0, fill: false}
    ]
  },
  options: {
    responsive: false,
    animation: false,
    layout: {padding: {top: 44, right: 14, left: 0, bottom: 0}},
    plugins: {
      tooltip: {enabled: false},
      legend: {
        position: 'right', align: 'start',
        labels: {
          usePointStyle: true, boxWidth: 6, boxHeight: 6, padding: 12, color: '#000',
          font: {family: serif, size: 27},
          filter: item => !item.text.includes('fit')
        }
      }
    },
    scales: {
      x: {
        type: 'category', offset: true,
        ticks: {autoSkip: false, minRotation: 55, maxRotation: 55, color: '#000', padding: 2,
          font: {family: serif, size: 23, weight: 'bold'}},
        grid: {offset: false, drawOnChartArea: false, tickLength: 10, tickWidth: 3, tickColor: '#000'},
        border: {width: 3, color: '#000'},
        title: {display: true, text: 'Time After Hemorrhage (days)', color: '#000',
          font: {family: serif, size: 27, weight: 'bold'}, padding: {top: 2, bottom: 2}},
        afterFit: s => { s.height = 99; }
      },
      y: {
        type: 'logarithmic', min: 0.1, max: 10,
        ticks: {autoSkip: false, color: '#000', padding: 6, font: {family: serif, size: 23, weight: 'bold'},
          callback: v => isDecade(v) ? String(v) : ''},
        grid: {drawOnChartArea: false, tickLength: 11, tickWidth: 3,
          tickColor: c => (c.tick && isDecade(c.tick.value)) ? '#000' : 'rgba(0,0,0,0)'},
        border: {width: 3, color: '#000'},
        title: {display: true, text: 'DHET Conc. (ng/ml)', color: '#000',
          font: {family: serif, size: 27, weight: 'bold'}, padding: {top: 4, bottom: 2}},
        afterFit: s => { s.width = 100; }
      },
      gap: {
        type: 'linear', axis: 'y', position: 'right', display: true,
        grid: {display: false}, border: {display: false}, ticks: {display: false},
        afterFit: s => { s.width = 26; }
      }
    }
  },
  plugins: [errorBars, minorTicks]
});
</script>
</body>
</html>
